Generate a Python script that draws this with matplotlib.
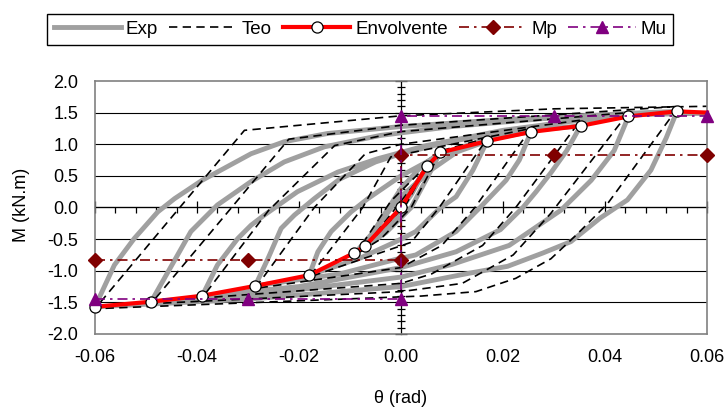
import matplotlib
matplotlib.use("Agg")
import matplotlib.pyplot as plt
from matplotlib.ticker import MultipleLocator, FormatStrFormatter

plt.rcParams['font.family'] = ['Liberation Sans', 'DejaVu Sans']
plt.rcParams['axes.unicode_minus'] = False

# ==========================================
# Datos (theta en rad, M en kN.m)
# ==========================================

# Curva experimental (un solo recorrido: carga, descarga, recarga...)
exp_theta = [
    0.0, 0.0051,
    0.002, -0.002, -0.007,
    -0.004, 0.0, 0.004, 0.0077,
    0.005, 0.002, -0.003, -0.009,
    -0.005, -0.001, 0.006, 0.011, 0.0169,
    0.0141, 0.0108, 0.0075, 0.0029, -0.001, -0.008, -0.018,
    -0.0163, -0.0137, -0.0098, -0.0065, 0.0, 0.008, 0.016, 0.0255,
    0.0232, 0.0206, 0.0155, 0.0108, 0.0029, -0.001, -0.012, -0.0286,
    -0.0261, -0.0235, -0.0209, -0.017, -0.012, -0.005, 0.0, 0.01, 0.02, 0.0352,
    0.0325, 0.0294, 0.0265, 0.0239, 0.0195, 0.0108, 0.0, -0.02, -0.039,
    -0.036, -0.032, -0.0294, -0.0268, -0.0203, -0.0124, -0.0046, 0.005, 0.02, 0.033, 0.0446,
    0.0418, 0.0373, 0.0314, 0.0212, 0.01, 0.0, -0.025, -0.049,
    -0.0412, -0.036, -0.0294, -0.0229, -0.015, -0.004, 0.01, 0.03, 0.045, 0.0541,
    0.052, 0.049, 0.0444, 0.039, 0.0333, 0.0278, 0.0209, 0.0133, 0.0, -0.03, -0.06,
    -0.0562, -0.0523, -0.0477, -0.0444, -0.039, -0.0294, -0.0229, -0.0144, 0.0, 0.02, 0.04, 0.06,
]
exp_m = [
    0.0, 0.65,
    0.2, -0.25, -0.6,
    -0.2, 0.3, 0.65, 0.87,
    0.45, 0.0, -0.4, -0.72,
    -0.35, 0.1, 0.6, 0.88, 1.05,
    0.59, 0.17, -0.02, -0.38, -0.54, -0.8, -1.07,
    -0.70, -0.38, -0.07, 0.14, 0.5, 0.85, 1.06, 1.2,
    0.75, 0.43, 0.0, -0.38, -0.75, -0.82, -1.05, -1.24,
    -0.81, -0.33, -0.12, 0.14, 0.45, 0.72, 0.85, 1.05, 1.18, 1.29,
    0.9, 0.55, 0.25, 0.0, -0.35, -0.7, -0.95, -1.25, -1.4,
    -0.91, -0.49, -0.28, -0.12, 0.25, 0.56, 0.77, 0.98, 1.22, 1.36, 1.44,
    0.9, 0.43, -0.04, -0.6, -0.9, -1.1, -1.35, -1.49,
    -0.38, 0.04, 0.41, 0.72, 0.96, 1.14, 1.28, 1.42, 1.49, 1.52,
    1.1, 0.59, 0.12, -0.17, -0.54, -0.72, -0.93, -1.04, -1.25, -1.45, -1.57,
    -0.91, -0.49, -0.07, 0.14, 0.43, 0.85, 1.04, 1.17, 1.28, 1.39, 1.46, 1.49,
]

# Curva teórica
teo_theta = [
    0.0, 0.0055,
    0.001, -0.007,
    0.008,
    0.002, -0.004, -0.009,
    -0.002, 0.008, 0.017,
    0.0075, 0.002, -0.018,
    -0.0075, -0.002, 0.01, 0.0255,
    0.0145, 0.008, 0.0, -0.0286,
    -0.017, -0.007, 0.0, 0.0352,
    0.0225, 0.016, 0.006, 0.0, -0.039,
    -0.026, -0.013, 0.0, 0.0446,
    0.0294, 0.022, 0.012, 0.0, -0.049,
    -0.022, 0.0, 0.0545,
    0.0405, 0.0343, 0.0294, 0.0225, 0.0147, 0.004, -0.06,
    -0.0307, 0.0, 0.03, 0.06,
]
teo_m = [
    0.0, 0.72,
    0.05, -0.62,
    0.92,
    0.0, -0.5, -0.75,
    0.1, 0.9, 1.1,
    0.0, -0.55, -1.1,
    0.0, 0.8, 1.0, 1.25,
    0.0, -0.6, -0.95, -1.28,
    0.0, 0.85, 1.0, 1.38,
    0.0, -0.6, -1.05, -1.2, -1.43,
    -0.05, 0.98, 1.2, 1.5,
    -0.09, -0.75, -1.2, -1.33, -1.52,
    1.08, 1.3, 1.6,
    0.06, -0.44, -0.81, -1.12, -1.33, -1.4, -1.6,
    1.22, 1.45, 1.56, 1.6,
]

# Envolvente
env_theta = [-0.06, -0.0491, -0.039, -0.0286, -0.018, -0.0092, -0.007, 0.0,
             0.0051, 0.0077, 0.0169, 0.0255, 0.0352, 0.0446, 0.0541, 0.06]
env_m = [-1.57, -1.49, -1.395, -1.24, -1.07, -0.72, -0.605, 0.0,
         0.65, 0.87, 1.05, 1.195, 1.29, 1.44, 1.52, 1.50]

# Momento plástico y último
mp_theta = [-0.06, -0.03, 0.0, 0.0, 0.03, 0.06]
mp_m = [-0.83, -0.83, -0.83, 0.83, 0.83, 0.83]
mu_theta = [-0.06, -0.03, 0.0, 0.0, 0.03, 0.06]
mu_m = [-1.45, -1.45, -1.45, 1.45, 1.45, 1.45]

x_ticks = [-0.06, -0.04, -0.02, 0.0, 0.02, 0.04, 0.06]
y_ticks = [-2.0, -1.5, -1.0, -0.5, 0.0, 0.5, 1.0, 1.5, 2.0]

# ==========================================
# Figura
# ==========================================
fig = plt.figure(figsize=(7.27, 4.15), dpi=100)
pos = [95 / 727, 1 - 334 / 415, 612 / 727, 253 / 415]

# ejes que cruzan en cero (debajo de las series)
axz = fig.add_axes(pos, zorder=0)
ax = fig.add_axes(pos, zorder=1)
ax.patch.set_alpha(0)

for a in (ax, axz):
    a.set_xlim(-0.06, 0.06)
    a.set_ylim(-2.0, 2.0)

axz.spines['left'].set_position(('data', 0))
axz.spines['bottom'].set_position(('data', 0))
axz.spines['top'].set_visible(False)
axz.spines['right'].set_visible(False)
axz.spines['left'].set_color('black')
axz.spines['bottom'].set_color('black')
axz.spines['left'].set_linewidth(0.9)
axz.spines['bottom'].set_linewidth(0.9)
axz.xaxis.set_major_locator(MultipleLocator(0.02))
axz.xaxis.set_minor_locator(MultipleLocator(0.004))
axz.yaxis.set_major_locator(MultipleLocator(0.5))
axz.yaxis.set_minor_locator(MultipleLocator(0.1))
axz.tick_params(axis='x', which='major', direction='inout', length=9, width=0.9, labelbottom=False)
axz.tick_params(axis='x', which='minor', direction='out', length=4, width=0.9)
axz.tick_params(axis='y', which='major', direction='inout', length=9, width=0.9, labelleft=False)
axz.tick_params(axis='y', which='minor', direction='inout', length=6, width=0.9)

# marco, rejilla y etiquetas
for s in ax.spines.values():
    s.set_color('#808080')
    s.set_linewidth(1.2)
ax.set_xticks(x_ticks)
ax.set_yticks(y_ticks)
ax.xaxis.set_major_formatter(FormatStrFormatter('%.2f'))
ax.yaxis.set_major_formatter(FormatStrFormatter('%.1f'))
ax.tick_params(axis='x', length=0, pad=11, labelsize=13)
ax.tick_params(axis='y', length=0, pad=12, labelsize=13)
for yv in y_ticks[1:-1]:
    ax.axhline(yv, color='black', lw=0.8, zorder=0.5)

ax.plot(exp_theta, exp_m, color='#A0A0A0', lw=3.5, solid_joinstyle='round', label='Exp', zorder=2)
ax.plot(teo_theta, teo_m, color='black', lw=1.2, dashes=(5.0, 3.2), label='Teo', zorder=2.2)
ax.plot(env_theta, env_m, color='red', lw=3.0, marker='o', markersize=8,
        markerfacecolor='white', markeredgecolor='black', markeredgewidth=0.9,
        markevery=list(range(len(env_theta) - 1)), label='Envolvente', zorder=3, clip_on=False)
ax.plot(mp_theta, mp_m, color='#800000', lw=1.2, linestyle=(0, (6, 3, 1.5, 3)),
        marker='D', markersize=7, label='Mp', zorder=3.2, clip_on=False)
ax.plot(mu_theta, mu_m, color='#800080', lw=1.2, linestyle=(0, (6, 3, 1.5, 3)),
        marker='^', markersize=9, label='Mu', zorder=3.4, clip_on=False)

fig.text(22 / 727, 1 - 205 / 415, 'M (kN.m)', rotation=90, ha='center', va='center', fontsize=13)
fig.text(401 / 727, 1 - 398 / 415, 'θ (rad)', ha='center', va='center', fontsize=13)

leg = fig.legend(loc='center', bbox_to_anchor=(360 / 727, 1 - 29.5 / 415), ncol=5,
                 fontsize=13.5, frameon=True, fancybox=False, framealpha=1,
                 edgecolor='black', handlelength=3.6, handletextpad=0.25,
                 columnspacing=0.6, borderpad=0.35)
leg.get_frame().set_linewidth(1.0)

fig.savefig('out.png', dpi=100)
